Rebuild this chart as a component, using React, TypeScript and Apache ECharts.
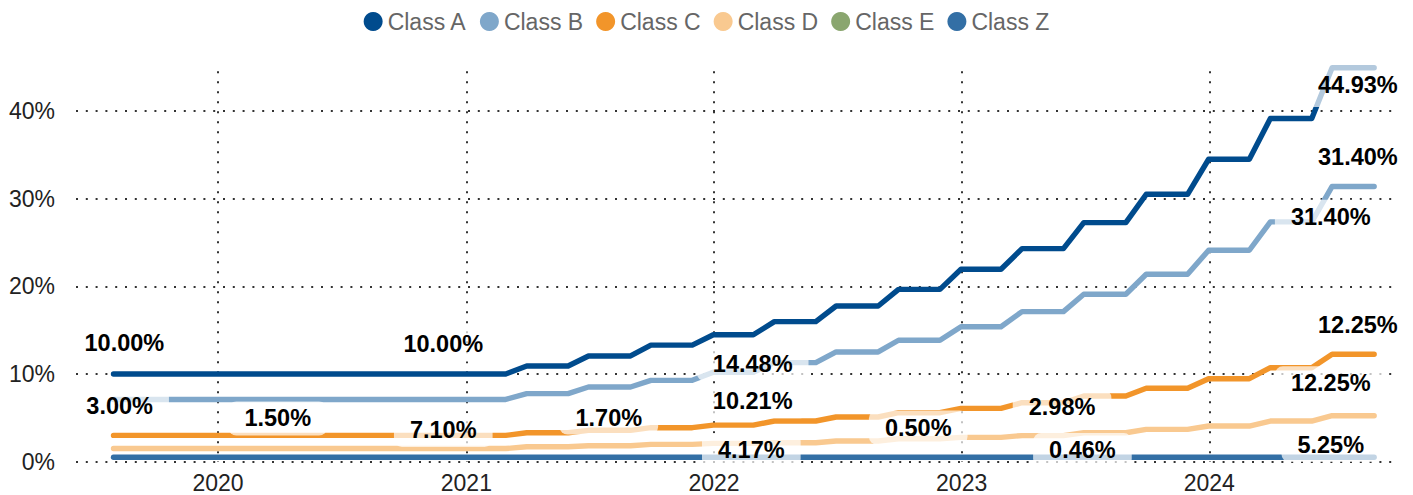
import React, { useEffect, useRef } from "react";
import * as echarts from "echarts";

const FONT = '"Liberation Sans", Arial, Helvetica, sans-serif';

const seriesNames = ["Class A", "Class B", "Class C", "Class D", "Class E", "Class Z"];
const seriesColors = ["#004b8d", "#7fa7ca", "#f2952a", "#f9c990", "#8aa66f", "#336fa5"];

const months = [
  "2019-07-31", "2019-08-31", "2019-09-30", "2019-10-31", "2019-11-30", "2019-12-31",
  "2020-01-31", "2020-02-29", "2020-03-31", "2020-04-30", "2020-05-31", "2020-06-30",
  "2020-07-31", "2020-08-31", "2020-09-30", "2020-10-31", "2020-11-30", "2020-12-31",
  "2021-01-31", "2021-02-28", "2021-03-31", "2021-04-30", "2021-05-31", "2021-06-30",
  "2021-07-31", "2021-08-31", "2021-09-30", "2021-10-31", "2021-11-30", "2021-12-31",
  "2022-01-31", "2022-02-28", "2022-03-31", "2022-04-30", "2022-05-31", "2022-06-30",
  "2022-07-31", "2022-08-31", "2022-09-30", "2022-10-31", "2022-11-30", "2022-12-31",
  "2023-01-31", "2023-02-28", "2023-03-31", "2023-04-30", "2023-05-31", "2023-06-30",
  "2023-07-31", "2023-08-31", "2023-09-30", "2023-10-31", "2023-11-30", "2023-12-31",
  "2024-01-31", "2024-02-29", "2024-03-31", "2024-04-30", "2024-05-31", "2024-06-30",
  "2024-07-31", "2024-08-31",
];

const classA = [
  10, 10, 10, 10, 10, 10,
  10, 10, 10, 10, 10, 10, 10, 10, 10, 10, 10, 10,
  10, 10, 10.92, 10.92, 10.92, 12.06, 12.06, 12.06, 13.3, 13.3, 13.3, 14.48,
  14.48, 14.48, 15.98, 15.98, 15.98, 17.76, 17.76, 17.76, 19.66, 19.66, 19.66, 21.95,
  21.95, 21.95, 24.3, 24.3, 24.3, 27.27, 27.27, 27.27, 30.5, 30.5, 30.5, 34.5,
  34.5, 34.5, 39.15, 39.15, 39.15, 44.93, 44.93, 44.93,
];
const classB = [
  7.1, 7.1, 7.1, 7.1, 7.1, 7.1,
  7.1, 7.1, 7.1, 7.1, 7.1, 7.1, 7.1, 7.1, 7.1, 7.1, 7.1, 7.1,
  7.1, 7.1, 7.76, 7.76, 7.76, 8.52, 8.52, 8.52, 9.28, 9.28, 9.28, 10.21,
  10.21, 10.21, 11.3, 11.3, 11.3, 12.52, 12.52, 12.52, 13.85, 13.85, 13.85, 15.4,
  15.4, 15.4, 17.12, 17.12, 17.12, 19.1, 19.1, 19.1, 21.38, 21.38, 21.38, 24.12,
  24.12, 24.12, 27.36, 27.36, 27.36, 31.4, 31.4, 31.4,
];
const classC = [
  3, 3, 3, 3, 3, 3,
  3, 3, 3, 3, 3, 3, 3, 3, 3, 3, 3, 3,
  3, 3, 3.3, 3.3, 3.3, 3.58, 3.58, 3.58, 3.88, 3.88, 3.88, 4.17,
  4.17, 4.17, 4.64, 4.64, 4.64, 5.1, 5.1, 5.1, 5.59, 5.59, 5.59, 6.08,
  6.08, 6.08, 6.73, 6.73, 6.73, 7.49, 7.49, 7.49, 8.37, 8.37, 8.37, 9.47,
  9.47, 9.47, 10.72, 10.72, 10.72, 12.25, 12.25, 12.25,
];
const classD = [
  1.5, 1.5, 1.5, 1.5, 1.5, 1.5,
  1.5, 1.5, 1.5, 1.5, 1.5, 1.5, 1.5, 1.5, 1.5, 1.5, 1.5, 1.5,
  1.5, 1.5, 1.7, 1.7, 1.7, 1.82, 1.82, 1.82, 1.98, 1.98, 1.98, 2.09,
  2.09, 2.09, 2.16, 2.16, 2.16, 2.36, 2.36, 2.36, 2.62, 2.62, 2.62, 2.78,
  2.78, 2.78, 2.98, 2.98, 2.98, 3.3, 3.3, 3.3, 3.69, 3.69, 3.69, 4.07,
  4.07, 4.07, 4.64, 4.64, 4.64, 5.25, 5.25, 5.25,
];
const classE: number[] = [];
const classZ = [
  0.5, 0.5, 0.5, 0.5, 0.5, 0.5,
  0.5, 0.5, 0.5, 0.5, 0.5, 0.5, 0.5, 0.5, 0.5, 0.5, 0.5, 0.5,
  0.5, 0.5, 0.5, 0.5, 0.5, 0.5, 0.5, 0.5, 0.5, 0.5, 0.5, 0.5,
  0.5, 0.5, 0.5, 0.5, 0.5, 0.5, 0.5, 0.5, 0.5, 0.5, 0.5, 0.5,
  0.5, 0.5, 0.5, 0.5, 0.5, 0.5, 0.5, 0.5, 0.5, 0.5, 0.5, 0.5,
  0.5, 0.5, 0.5, 0.5, 0.5, 0.5, 0.5, 0.5,
];
const seriesValues = [classA, classB, classC, classD, classE, classZ];

// value labels: text, anchor date and anchor value (label centre)
const labelTexts = [
  "10.00%", "3.00%", "1.50%", "10.00%", "7.10%", "1.70%", "14.48%", "10.21%", "4.17%",
  "0.50%", "2.98%", "0.46%", "44.93%", "31.40%", "31.40%", "12.25%", "12.25%", "5.25%",
];
const labelDates = [
  "2019-08-16", "2019-08-09", "2020-03-29", "2020-11-28", "2020-11-28", "2021-07-30",
  "2022-02-27", "2022-02-27", "2022-02-25", "2022-10-29", "2023-05-29", "2023-06-28",
  "2024-08-07", "2024-08-07", "2024-06-28", "2024-08-07", "2024-06-28", "2024-06-28",
];
const labelValues = [
  13.54, 6.35, 4.93, 13.37, 3.62, 5.04, 11.14, 6.89, 1.33,
  3.9, 6.27, 1.33, 42.97, 34.79, 27.94, 15.59, 8.94, 1.9,
];

const yTicks = [0, 10, 20, 30, 40];

export default function App() {
  const ref = useRef<HTMLDivElement>(null);
  useEffect(() => {
    if (!ref.current) return;
    const chart = echarts.init(ref.current, null, { renderer: "svg" });
    const lineSeries = seriesNames.map((name, si) => ({
      type: "line",
      name,
      data: seriesValues[si].map((v, i) => [months[i], v]),
      showSymbol: false,
      symbol: "none",
      color: seriesColors[si],
      itemStyle: { color: seriesColors[si] },
      lineStyle: { width: 5.4, color: seriesColors[si], cap: "round", join: "round" },
      z: 2,
      silent: true,
      clip: false,
    }));
    const labelSeries = {
      type: "scatter",
      name: "labels",
      silent: true,
      z: 10,
      symbolSize: 1,
      itemStyle: { color: "rgba(0,0,0,0)" },
      data: labelTexts.map((t, i) => {
        const item: any = { name: t, value: [labelDates[i], labelValues[i]] };
        if (i === 12) item.label = { padding: [5, 16, 15, 16] };
        return item;
      }),
      label: {
        show: true,
        position: "inside",
        formatter: "{b}",
        fontFamily: FONT,
        fontSize: 23.5,
        fontWeight: "bold",
        color: "#000",
        opacity: 1,
        textBorderWidth: 0,
        backgroundColor: "rgba(255,255,255,0.7)",
        padding: [5, 16],
        borderRadius: 8,
      },
    };
    const option: any = {
      animation: false,
      textStyle: { fontFamily: FONT },
      legend: {
        data: seriesNames,
        top: 5,
        left: "center",
        icon: "circle",
        itemWidth: 19,
        itemHeight: 19,
        itemGap: 13,
        textStyle: { fontSize: 23, color: "#666", fontFamily: FONT },
      },
      grid: { left: 76, right: 14, top: 67.2, bottom: 33.3, containLabel: false, outerBoundsMode: "none" },
      xAxis: {
        type: "time",
        min: "2019-06-05T17:00:00",
        max: "2024-10-06T14:00:00",
        minInterval: 365 * 24 * 3600 * 1000,
        axisLine: { show: false },
        axisTick: { show: false },
        axisLabel: {
          formatter: "{yyyy}",
          fontSize: 23,
          color: "#222",
          margin: 10,
          showMinLabel: false,
          showMaxLabel: false,
          fontFamily: FONT,
        },
        splitLine: {
          show: true,
          showMinLine: false,
          showMaxLine: false,
          lineStyle: { color: "#333", width: 2, type: [2, 8], dashOffset: 5.5 },
        },
      },
      yAxis: {
        type: "value",
        min: 0,
        max: 45,
        interval: 10,
        axisLine: { show: false },
        axisTick: { show: false },
        axisLabel: {
          formatter: (v: number) => (yTicks.includes(v) ? v + "%" : ""),
          fontSize: 23,
          color: "#222",
          margin: 21,
          showMaxLabel: false,
          fontFamily: FONT,
        },
        splitLine: {
          show: true,
          showMaxLine: false,
          lineStyle: { color: "#333", width: 2, type: [2, 7.8] },
        },
      },
      series: [...lineSeries, labelSeries],
    };
    chart.setOption(option);
    return () => chart.dispose();
  }, []);
  return (
    <div
      ref={ref}
      style={{ position: "absolute", left: 0, top: 0, width: 1413, height: 495 }}
    />
  );
}
